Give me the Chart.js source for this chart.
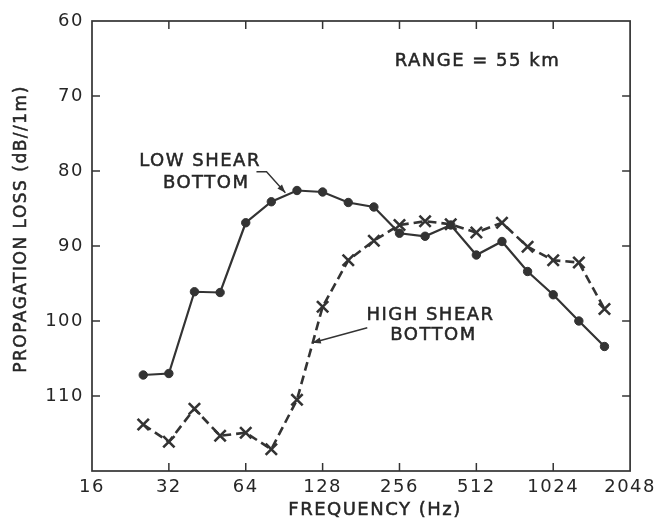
<!DOCTYPE html>
<html>
<head>
  <meta charset="utf-8">
  <title>Propagation loss vs frequency</title>
  <script src="https://cdn.jsdelivr.net/npm/chart.js"></script>
  <style>
    html, body {
      margin: 0;
      padding: 0;
      background: #ffffff;
    }
    .wrap {
      width: 659px;
      height: 520px;
    }
  </style>
</head>
<body>

<div class="wrap">
  <canvas id="lossChart" width="659" height="520"></canvas>
</div>

<script>
  // 1/3-octave frequencies (Hz)
  const freqs = [25.4, 32, 40.3, 50.8, 64, 80.6, 101.6, 128, 161.3, 203.2,
                 256, 322.5, 406.4, 512, 645.1, 812.7, 1024, 1290.2, 1625.5];
  const lowShear = [107.2, 107.0, 96.1, 96.2, 86.9, 84.1, 82.6, 82.8, 84.2, 84.8,
                    88.3, 88.7, 87.2, 91.2, 89.4, 93.4, 96.5, 100.0, 103.4];
  const highShear = [113.8, 116.1, 111.7, 115.3, 114.9, 117.1, 110.5, 98.1, 91.9, 89.3,
                     87.2, 86.7, 87.1, 88.2, 86.9, 90.1, 91.9, 92.2, 98.4];
  const xTicks = [16, 32, 64, 128, 256, 512, 1024, 2048];
  const yTicks = [60, 70, 80, 90, 100, 110];

  const ink = '#333333';
  const textInk = '#262626';
  const font = 'DejaVu Sans';

  function line(ctx, x1, y1, x2, y2) {
    ctx.beginPath();
    ctx.moveTo(x1, y1);
    ctx.lineTo(x2, y2);
    ctx.stroke();
  }

  function arrow(ctx, pts) {
    ctx.beginPath();
    ctx.moveTo(pts[0][0], pts[0][1]);
    for (let i = 1; i < pts.length; i++) ctx.lineTo(pts[i][0], pts[i][1]);
    ctx.stroke();
    const [ax, ay] = pts[pts.length - 2];
    const [bx, by] = pts[pts.length - 1];
    const ang = Math.atan2(by - ay, bx - ax);
    const len = 9;
    ctx.beginPath();
    ctx.moveTo(bx, by);
    ctx.lineTo(bx - len * Math.cos(ang - 0.35), by - len * Math.sin(ang - 0.35));
    ctx.lineTo(bx - len * Math.cos(ang + 0.35), by - len * Math.sin(ang + 0.35));
    ctx.closePath();
    ctx.fill();
  }

  // slightly heavier lettering, like the pen-drawn original
  function heavyText(ctx, str, x, y) {
    ctx.fillText(str, x, y);
    ctx.lineWidth = 0.5;
    ctx.strokeText(str, x, y);
  }

  const decor = {
    id: 'decor',
    beforeDraw(chart) {
      chart.ctx.letterSpacing = '1.5px';
    },
    afterDraw(chart) {
      const { ctx, chartArea: a, scales: { x, y } } = chart;
      const px = v => x.getPixelForValue(v);
      const py = v => y.getPixelForValue(v);
      ctx.save();
      ctx.strokeStyle = ink;
      ctx.fillStyle = ink;
      ctx.lineWidth = 1.7;
      ctx.strokeRect(a.left, a.top, a.right - a.left, a.bottom - a.top);

      // inward ticks
      ctx.lineWidth = 1.5;
      xTicks.slice(1, -1).forEach(v => {
        line(ctx, px(v), a.top, px(v), a.top + 8);
        line(ctx, px(v), a.bottom, px(v), a.bottom - 8);
      });
      yTicks.slice(1).forEach(v => {
        line(ctx, a.left, py(v), a.left + 8, py(v));
        line(ctx, a.right, py(v), a.right - 8, py(v));
      });

      ctx.lineWidth = 1.4;
      arrow(ctx, [[px(70.5), py(80.1)], [px(77.2), py(80.1)], [px(91.5), py(82.9)]]);
      arrow(ctx, [[px(191.5), py(100.9)], [px(116.7), py(102.9)]]);

      // labels
      ctx.fillStyle = textInk;
      ctx.strokeStyle = textInk;
      ctx.letterSpacing = '1.5px';
      ctx.textAlign = 'center';
      ctx.textBaseline = 'middle';
      ctx.font = '18px ' + font;
      heavyText(ctx, 'RANGE = 55 km', px(517), py(65.4));
      heavyText(ctx, 'LOW SHEAR', px(42.4), py(78.7));
      heavyText(ctx, 'BOTTOM', px(44.8), py(81.7));
      heavyText(ctx, 'HIGH SHEAR', px(338.6), py(99.2));
      heavyText(ctx, 'BOTTOM', px(347.8), py(101.9));

      // axis titles
      ctx.font = '18px ' + font;
      heavyText(ctx, 'FREQUENCY (Hz)', 375, 510);
      ctx.font = '17px ' + font;
      ctx.translate(21.5, 229);
      ctx.rotate(-Math.PI / 2);
      heavyText(ctx, 'PROPAGATION LOSS (dB//1m)', 0, 0);
      ctx.restore();
    }
  };

  const ctx = document.getElementById('lossChart').getContext('2d');

  new Chart(ctx, {
    type: 'line',
    data: {
      datasets: [
        {
          label: 'LOW SHEAR BOTTOM',
          data: freqs.map((f, i) => ({ x: f, y: lowShear[i] })),
          borderColor: ink,
          backgroundColor: ink,
          borderWidth: 2.2,
          pointStyle: 'circle',
          pointRadius: 4.2,
          pointBorderWidth: 1,
          fill: false,
          tension: 0
        },
        {
          label: 'HIGH SHEAR BOTTOM',
          data: freqs.map((f, i) => ({ x: f, y: highShear[i] })),
          borderColor: ink,
          backgroundColor: ink,
          borderWidth: 2.6,
          borderDash: [9, 5],
          pointStyle: 'crossRot',
          pointRadius: 8,
          pointBorderWidth: 2.6,
          fill: false,
          tension: 0
        }
      ]
    },
    options: {
      responsive: false,
      animation: false,
      layout: { padding: { top: 21, right: 27, left: 0, bottom: 0 } },
      plugins: {
        legend: { display: false },
        tooltip: { enabled: false }
      },
      scales: {
        x: {
          type: 'logarithmic',
          min: 16,
          max: 2048,
          afterBuildTicks: scale => { scale.ticks = xTicks.map(v => ({ value: v })); },
          afterFit: scale => { scale.height = 49; },
          grid: { display: false, drawTicks: false },
          border: { display: false },
          ticks: {
            autoSkip: false,
            maxRotation: 0,
            padding: 6,
            color: textInk,
            font: { family: font, size: 18 },
            callback: v => String(v)
          }
        },
        y: {
          type: 'linear',
          reverse: true,
          min: 60,
          max: 120,
          afterBuildTicks: scale => { scale.ticks = yTicks.map(v => ({ value: v })); },
          afterFit: scale => { scale.width = 92; },
          grid: { display: false, drawTicks: false },
          border: { display: false },
          ticks: {
            padding: 8,
            color: textInk,
            font: { family: font, size: 18 },
            callback: v => String(v)
          }
        }
      }
    },
    plugins: [decor]
  });
</script>

</body>
</html>
